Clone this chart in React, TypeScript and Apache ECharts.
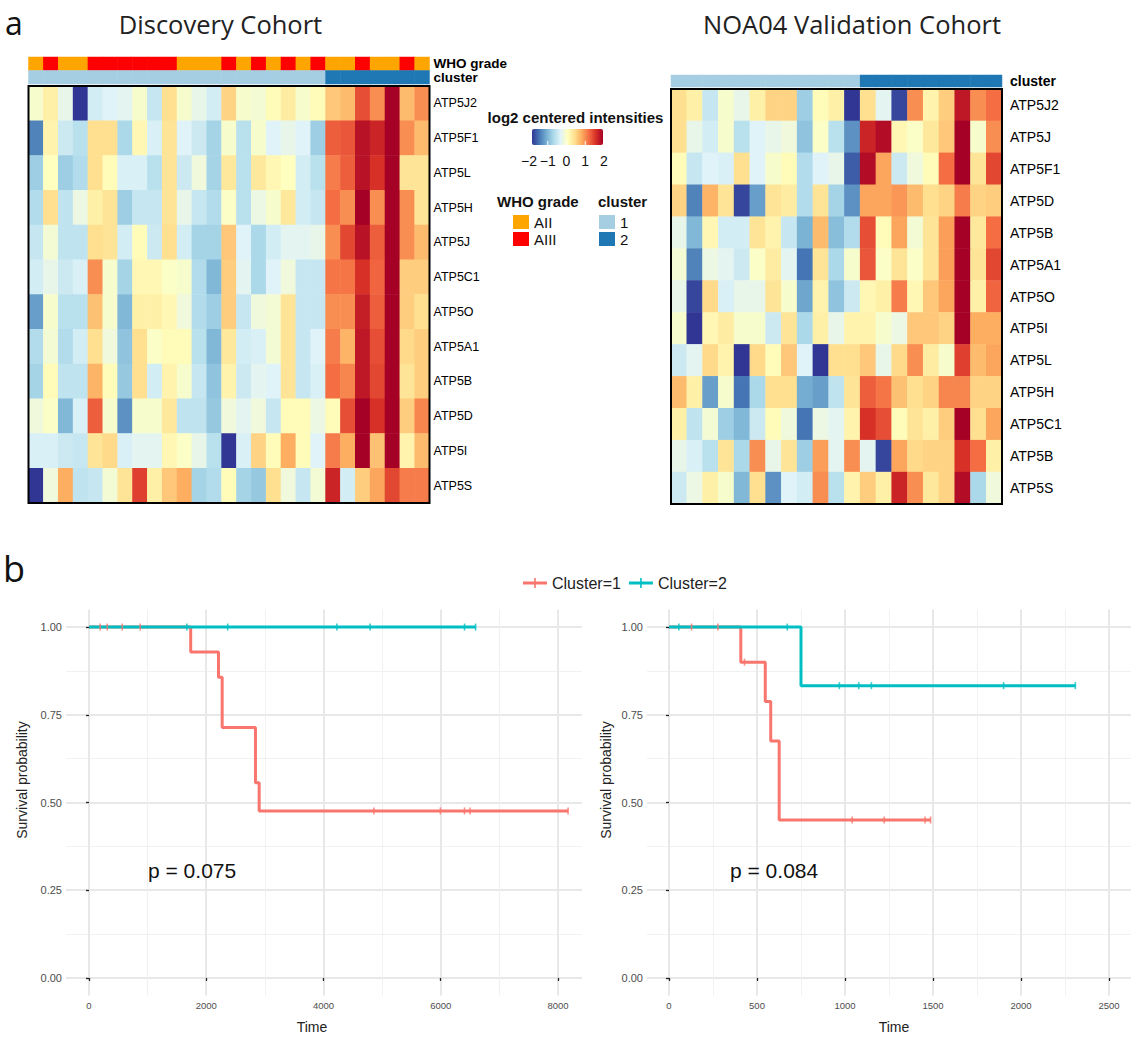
import React, { useEffect, useRef } from 'react';
import * as echarts from 'echarts';

// ---------------- Heatmap data ----------------
const discoveryGenes = ['ATP5J2', 'ATP5F1', 'ATP5L', 'ATP5H', 'ATP5J', 'ATP5C1', 'ATP5O', 'ATP5A1', 'ATP5B', 'ATP5D', 'ATP5I', 'ATP5S'];
const discoveryWho = ['AII', 'AIII', 'AII', 'AII', 'AIII', 'AIII', 'AIII', 'AIII', 'AIII', 'AIII', 'AII', 'AII', 'AII', 'AIII', 'AII', 'AIII', 'AII', 'AIII', 'AII', 'AIII', 'AII', 'AII', 'AIII', 'AII', 'AII', 'AIII', 'AII'];
const discoveryCluster = [1, 1, 1, 1, 1, 1, 1, 1, 1, 1, 1, 1, 1, 1, 1, 1, 1, 1, 1, 1, 2, 2, 2, 2, 2, 2, 2];
const discoveryValues: number[][] = [
  [-0.1, 0.2, -0.3, -2.0, -0.5, -0.4, -0.35, -0.1, -0.6, 0.4, -0.1, -0.3, -0.5, 0.5, -0.1, -0.15, 0.05, 0.25, -0.1, 0.05, 0.6, 0.7, 1.4, 1.0, 2.0, 0.7, 1.0],
  [-1.5, 0.15, -0.55, -0.7, 0.4, 0.4, -0.8, 0.1, -0.45, 0.35, -0.4, -0.55, -0.85, -0.1, -0.7, -0.1, -0.4, -0.3, -0.4, -0.9, 1.3, 1.35, 1.85, 1.7, 2.0, 1.0, 0.7],
  [-0.9, 0.0, -0.9, -0.75, 0.4, 0.05, -0.45, -0.45, -0.7, 0.35, -0.55, -0.2, -0.85, 0.3, -0.7, 0.3, 0.1, 0.0, -0.5, -0.7, 1.1, 1.3, 1.85, 1.6, 2.0, 0.35, 0.35],
  [-0.75, 0.4, -0.65, -0.25, 0.2, 0.35, -0.9, -0.6, -0.6, 0.35, -0.3, -0.6, -0.75, -0.05, -0.7, -0.25, -0.1, 0.3, -0.5, -0.6, 1.2, 1.0, 2.0, 1.0, 2.0, 1.0, 0.35],
  [-0.6, -0.15, -0.65, -0.65, 0.4, 0.35, -0.5, 0.05, -0.55, 0.4, -0.5, -0.85, -0.85, 0.6, -0.4, -0.8, -0.5, -0.35, -0.35, -0.3, 1.0, 1.45, 1.85, 1.3, 2.0, 1.0, 0.7],
  [-0.5, -0.3, -0.55, -0.45, 1.0, -0.1, -0.85, 0.1, 0.1, -0.05, -0.1, -0.75, -1.1, 0.55, -0.35, -0.8, -0.4, -0.2, -0.6, -0.6, 1.15, 1.15, 1.6, 1.25, 2.0, 0.55, 0.55],
  [-1.3, -0.1, -0.7, -0.7, 0.65, -0.1, -1.1, 0.2, 0.2, 0.1, -0.2, -0.75, -0.9, 0.55, -0.6, -0.2, -0.15, 0.35, -0.6, -0.6, 1.0, 1.0, 1.75, 1.3, 2.0, 0.55, 0.4],
  [-0.75, -0.15, -0.75, -0.5, 0.4, -0.2, -1.0, 0.4, -0.05, 0.05, 0.05, -0.7, -1.1, 0.3, -0.5, -0.45, -0.15, 0.35, -0.6, -0.4, 1.1, 0.75, 1.8, 1.4, 2.0, 0.45, 0.55],
  [-0.85, 0.05, -0.65, -0.65, 0.75, 0.05, -0.95, 0.4, -0.5, 0.15, -0.1, -0.6, -1.0, 0.15, -0.55, -0.35, -0.4, 0.35, -0.6, -0.45, 1.2, 1.05, 1.8, 1.45, 2.0, 0.35, 0.55],
  [-0.2, -0.05, -1.1, -0.45, 1.3, -0.1, -1.4, -0.1, -0.1, 0.3, -0.65, -0.65, -0.95, -0.2, -0.35, -0.2, -0.6, 0.05, 0.05, -0.25, 0.05, 1.4, 2.0, 1.6, 2.0, 0.55, 1.05],
  [-0.45, -0.45, -0.55, -0.6, 0.35, 0.45, -0.45, -0.35, -0.35, 0.1, -0.05, -0.3, -0.7, -2.0, -0.45, 0.5, 0.05, 0.8, 0.05, -0.4, 1.1, 0.8, 2.0, 0.65, 2.0, 0.15, 0.7],
  [-2.0, -0.2, 0.8, -0.65, -0.6, -0.15, 0.35, 1.5, 0.2, 0.6, 0.8, -0.85, -0.75, 0.05, -0.85, -0.95, 0.4, -0.2, -0.6, -0.15, 1.7, -0.5, 0.55, 0.85, 1.45, 1.1, 1.1],
];

const validationGenes = ['ATP5J2', 'ATP5J', 'ATP5F1', 'ATP5D', 'ATP5B', 'ATP5A1', 'ATP5O', 'ATP5I', 'ATP5L', 'ATP5H', 'ATP5C1', 'ATP5B', 'ATP5S'];
const validationCluster = [1, 1, 1, 1, 1, 1, 1, 1, 1, 1, 1, 1, 2, 2, 2, 2, 2, 2, 2, 2, 2];
const validationValues: number[][] = [
  [0.4, 0.2, -0.6, -0.1, -0.3, 0.2, 0.5, 0.5, -0.9, 0.05, 0.2, -2.0, 0.4, -0.35, -1.9, 1.0, 0.15, 0.55, 1.8, 1.0, 1.2],
  [0.4, -0.3, -0.5, -0.1, -0.7, -0.4, -0.3, -0.2, -1.0, -0.05, -0.7, -1.4, 1.7, 1.9, 0.1, -0.05, 0.3, 0.6, 2.0, -0.1, 1.0],
  [0.05, -0.6, -0.4, -0.45, 0.4, -0.4, -0.1, 0.05, -0.75, -0.4, -0.3, -1.75, 1.9, 0.85, -0.55, -0.2, 0.05, 1.2, 2.0, 0.35, 1.45],
  [0.5, -1.5, 0.75, 0.35, -1.9, -1.3, 0.35, 0.25, -0.75, 0.35, -0.85, -1.4, 0.85, 0.85, 0.95, 0.7, 0.4, 0.5, 1.1, 0.5, 0.55],
  [-0.3, -1.1, 0.1, -0.5, -0.5, 0.35, 0.15, -0.6, -1.15, 0.7, -1.05, -0.75, 1.4, 0.05, 0.85, -0.15, 0.35, 0.9, 2.0, 0.3, 1.2],
  [-0.15, -1.5, -0.25, -0.35, -0.55, -0.05, 0.25, -0.35, -1.6, 0.35, -0.8, -0.1, 1.35, -0.05, 0.35, -0.05, 0.35, 0.9, 2.0, 0.35, 1.45],
  [-0.3, -1.9, 0.45, -0.45, -0.3, -0.3, 0.35, -0.1, -1.25, 0.15, -1.0, -0.55, 0.1, 0.2, 1.1, 0.1, 0.6, 0.85, 2.0, 0.2, 1.25],
  [-0.1, -2.0, 0.1, 0.25, -0.1, -0.1, -0.55, 0.35, -0.8, 0.2, -0.3, 0.15, 0.15, -0.1, -0.25, 0.6, 0.6, 0.5, 2.0, 0.8, 0.8],
  [-0.55, -0.35, 0.45, 0.15, -2.0, 0.45, 0.05, 0.6, -0.4, -2.0, 0.4, 0.4, 0.6, -0.3, 0.45, 1.0, 0.25, -0.1, 1.5, 0.7, 0.85],
  [0.7, 0.2, -1.3, -0.1, -1.6, -0.8, 0.4, 0.4, -1.2, -1.3, -0.65, 0.35, 1.3, 1.15, 0.65, 0.4, 0.5, 1.05, 1.05, 0.5, 0.5],
  [0.2, -0.65, -0.15, -0.9, -1.1, -0.55, 0.05, -0.2, -1.6, -0.25, -0.35, 0.15, 1.6, 1.4, 0.05, 0.35, 0.2, 0.55, 2.0, 0.4, 0.85],
  [-0.3, -0.45, -0.7, 0.35, -0.8, 1.0, -0.3, 0.35, -0.9, 0.9, -0.35, 1.0, -0.35, -1.9, 0.85, 0.45, 0.5, 0.5, 1.6, 1.2, 0.2],
  [-0.55, -0.25, 0.2, -0.1, -1.1, 0.4, -1.4, -0.4, -0.5, 1.0, -0.7, 0.15, 0.55, 0.2, 1.7, 1.0, 0.3, 0.5, 1.9, -0.8, -0.2],
];

const colorbarTicks = [-2, -1, 0, 1, 2];

// ---------------- Kaplan-Meier data ----------------
const discC1Time = [0, 1735, 2209, 2272, 2840, 2903, 8173];
const discC1Surv = [1, 0.929, 0.857, 0.714, 0.556, 0.476, 0.476];
const discC1Censor = [191, 311, 567, 874, 4860, 5995, 6406, 6500, 8173];
const discC2Time = [0, 6595];
const discC2Surv = [1, 1];
const discC2Censor = [1670, 2366, 4229, 4796, 6406, 6595];

const valC1Time = [0, 408, 547, 578, 626, 1486];
const valC1Surv = [1, 0.9, 0.7875, 0.675, 0.45, 0.45];
const valC1Censor = [128, 278, 429, 1041, 1223, 1455, 1486];
const valC2Time = [0, 750, 2309];
const valC2Surv = [1, 0.833, 0.833];
const valC2Censor = [56, 672, 968, 1078, 1150, 1901, 2309];

const discXTicks = [0, 2000, 4000, 6000, 8000];
const discXMinor = [1000, 3000, 5000, 7000];
const valXTicks = [0, 500, 1000, 1500, 2000, 2500];
const valXMinor = [250, 750, 1250, 1750, 2250];
const yTicks = [0, 0.25, 0.5, 0.75, 1];
const yMinor = [0.125, 0.375, 0.625, 0.875];
const pDiscovery = 'p = 0.075';
const pValidation = 'p = 0.084';

// ---------------- styles ----------------
const RDYLBU = ['#313695', '#4575b4', '#74add1', '#abd9e9', '#e0f3f8', '#ffffbf', '#fee090', '#fdae61', '#f46d43', '#d73027', '#a50026'];
const ORANGE = '#FFA500';
const RED = '#FF0000';
const CL1 = '#A6CEE3';
const CL2 = '#1F78B4';
const KM1 = '#F8766D';
const KM2 = '#00BFC4';
const SANS = 'Liberation Sans, Arial, sans-serif';
const TITLE = 'Open Sans, sans-serif';

function survAt(times: number[], surv: number[], t: number) {
  let s = surv[0];
  for (let i = 0; i < times.length; i++) if (times[i] <= t) s = surv[i];
  return s;
}

function buildOption() {
  const discData: number[][] = [];
  discoveryValues.forEach((row, r) => row.forEach((v, c) => discData.push([c, r, v])));
  const valData: number[][] = [];
  validationValues.forEach((row, r) => row.forEach((v, c) => valData.push([c, r, v])));
  const discAnno: number[][] = [];
  discoveryWho.forEach((w, c) => discAnno.push([c, 0, w === 'AII' ? 0 : 1]));
  discoveryCluster.forEach((k, c) => discAnno.push([c, 1, k === 1 ? 2 : 3]));
  const valAnno: number[][] = validationCluster.map((k, c) => [c, 0, k === 1 ? 2 : 3]);

  const idx = (n: number) => Array.from({ length: n }, (_, i) => String(i));
  const hmGrid = (left: number, top: number, width: number, height: number, border: boolean) => ({
    left, top, width, height, containLabel: false, outerBoundsMode: 'none',
    show: border, borderColor: '#000', borderWidth: 2, backgroundColor: 'transparent', z: 10,
  });
  const catX = (gridIndex: number, n: number) => ({ type: 'category', gridIndex, data: idx(n), show: false });
  const catY = (gridIndex: number, labels: string[], fontSize: number, bold: boolean, margin: number) => ({
    type: 'category', gridIndex, data: idx(labels.length), inverse: true, position: 'right',
    axisLine: { show: false }, axisTick: { show: false }, splitLine: { show: false },
    axisLabel: {
      interval: 0, margin, fontSize, fontFamily: SANS, color: '#000', fontWeight: bold ? 'bold' : 'normal',
      formatter: (_v: string, i: number) => labels[i],
    },
  });

  const kmGrid = (left: number, width: number) => ({
    left, top: 609.5, width, height: 386, containLabel: false, outerBoundsMode: 'none', show: false,
  });
  const majorX = (gridIndex: number, min: number, max: number, ticks: number[]) => ({
    type: 'value', gridIndex, min, max, position: 'bottom',
    axisLine: { show: false },
    axisTick: { show: true, customValues: ticks, length: 3, lineStyle: { color: '#222', width: 1.3 } },
    axisLabel: { show: true, customValues: ticks, fontSize: 9.5, color: '#4d4d4d', fontFamily: SANS, margin: 5, formatter: (v: number) => String(v) },
    splitLine: { show: true, lineStyle: { color: '#e8e8e8', width: 2 } },
  });
  const minorX = (gridIndex: number, min: number, max: number, ticks: number[]) => ({
    type: 'value', gridIndex, min, max, position: 'top',
    axisLine: { show: false },
    axisTick: { show: false, customValues: ticks },
    axisLabel: { show: false, customValues: ticks },
    splitLine: { show: true, lineStyle: { color: '#f1f1f1', width: 1 } },
  });
  const majorY = (gridIndex: number) => ({
    type: 'value', gridIndex, min: -0.05, max: 1.05, position: 'left',
    axisLine: { show: false },
    axisTick: { show: true, customValues: yTicks, length: 3, lineStyle: { color: '#222', width: 1.3 } },
    axisLabel: { show: true, customValues: yTicks, fontSize: 11, color: '#4d4d4d', fontFamily: SANS, margin: 4, formatter: (v: number) => v.toFixed(2) },
    splitLine: { show: true, lineStyle: { color: '#e8e8e8', width: 2 } },
  });
  const minorY = (gridIndex: number) => ({
    type: 'value', gridIndex, min: -0.05, max: 1.05, position: 'right',
    axisLine: { show: false },
    axisTick: { show: false, customValues: yMinor },
    axisLabel: { show: false, customValues: yMinor },
    splitLine: { show: true, lineStyle: { color: '#f1f1f1', width: 1 } },
  });

  const kmLine = (name: string, times: number[], surv: number[], color: string, xi: number, yi: number) => ({
    type: 'line', name, xAxisIndex: xi, yAxisIndex: yi, step: 'end',
    data: times.map((t, i) => [t, surv[i]]),
    symbol: 'none', showSymbol: false, silent: true,
    lineStyle: { color, width: 3 }, itemStyle: { color }, z: 3,
  });
  const kmCensor = (times: number[], surv: number[], censor: number[], color: string, xi: number, yi: number) => ({
    type: 'scatter', name: 'censor', xAxisIndex: xi, yAxisIndex: yi,
    data: censor.map((t) => [t, survAt(times, surv, t)]),
    symbol: 'rect', symbolSize: [1.6, 7], silent: true, itemStyle: { color }, z: 4,
  });

  const KEY = 'path://M0,4.5 L24,4.5 L24,7.5 L0,7.5 Z M11.2,1 L12.8,1 L12.8,11 L11.2,11 Z';

  const txt = (text: string, x: number, y: number, size: number, opts: any = {}) => ({
    type: 'text', x, y, silent: true, z: 100, rotation: opts.rotation || 0,
    style: {
      text, fill: opts.fill || '#222', fontSize: size, fontFamily: opts.family || SANS,
      fontWeight: opts.weight || 'normal', align: opts.align || 'left', verticalAlign: 'middle',
    },
  });

  const cbLeft = 529, cbWidth = 75;
  const graphics: any[] = [
    txt('a', 5, 22, 32, { family: TITLE, fill: '#111' }),
    txt('Discovery Cohort', 220.5, 24, 25.5, { family: TITLE, align: 'center', fill: '#222' }),
    txt('NOA04 Validation Cohort', 852, 24, 25.5, { family: TITLE, align: 'center', fill: '#222' }),
    txt('b', 3, 568, 36, { family: TITLE, fill: '#111' }),
    txt('log2 centered intensities', 575.5, 117, 15, { weight: 'bold', align: 'center', fill: '#111' }),
    {
      type: 'rect', shape: { x: cbLeft + 3, y: 129, width: cbWidth - 4, height: 16, r: 2 }, silent: true, z: 100,
      style: {
        fill: new echarts.graphic.LinearGradient(0, 0, 1, 0, RDYLBU.map((c, i) => ({ offset: i / (RDYLBU.length - 1), color: c }))),
      },
    },
    ...colorbarTicks.slice(1, -1).map((v) => ({
      type: 'line', silent: true, z: 101,
      shape: { x1: cbLeft + ((v + 2) / 4) * cbWidth, y1: 141, x2: cbLeft + ((v + 2) / 4) * cbWidth, y2: 145 },
      style: { stroke: '#fff', lineWidth: 1 },
    })),
    ...colorbarTicks.map((v) =>
      txt(v < 0 ? '\u2212' + Math.abs(v) : String(v), cbLeft + ((v + 2) / 4) * cbWidth, 161, 14, { align: 'center', fill: '#111' })
    ),
    txt('WHO grade', 497, 201, 15, { weight: 'bold', fill: '#111' }),
    txt('cluster', 598, 201, 15, { weight: 'bold', fill: '#111' }),
    { type: 'rect', silent: true, z: 100, shape: { x: 513, y: 215, width: 16, height: 14 }, style: { fill: ORANGE } },
    { type: 'rect', silent: true, z: 100, shape: { x: 513, y: 232, width: 16, height: 14 }, style: { fill: RED } },
    txt('AII', 534, 222, 15, { fill: '#111' }),
    txt('AIII', 534, 239, 15, { fill: '#111' }),
    { type: 'rect', silent: true, z: 100, shape: { x: 599, y: 215, width: 16, height: 14 }, style: { fill: CL1 } },
    { type: 'rect', silent: true, z: 100, shape: { x: 599, y: 232, width: 16, height: 14 }, style: { fill: CL2 } },
    txt('1', 620, 222, 15, { fill: '#111' }),
    txt('2', 620, 239, 15, { fill: '#111' }),
    txt('Survival probability', 22, 780, 14, { align: 'center', rotation: Math.PI / 2 }),
    txt('Survival probability', 606, 780, 14, { align: 'center', rotation: Math.PI / 2 }),
    txt('Time', 312, 1027, 14, { align: 'center' }),
    txt('Time', 894, 1027, 14, { align: 'center' }),
    txt(pDiscovery, 148, 870, 21, { fill: '#111' }),
    txt(pValidation, 730, 870, 21, { fill: '#111' }),
  ];

  return {
    animation: false,
    backgroundColor: '#fff',
    textStyle: { fontFamily: SANS },
    legend: {
      data: [{ name: 'Cluster=1', icon: KEY }, { name: 'Cluster=2', icon: KEY }],
      left: 518, top: 570, itemWidth: 24, itemHeight: 12, itemGap: 8, selectedMode: false,
      textStyle: { fontSize: 16, color: '#222', fontFamily: SANS },
    },
    grid: [
      hmGrid(28.5, 86, 401, 417, true),
      hmGrid(28.5, 57, 401, 27, false),
      hmGrid(671, 89, 331, 415, true),
      hmGrid(671, 75, 331, 12, false),
      kmGrid(66, 516),
      kmGrid(647, 484),
    ],
    xAxis: [
      catX(0, discoveryWho.length),
      catX(1, discoveryWho.length),
      catX(2, validationCluster.length),
      catX(3, validationCluster.length),
      majorX(4, -392, 8410, discXTicks),
      minorX(4, -392, 8410, discXMinor),
      majorX(5, -125, 2625, valXTicks),
      minorX(5, -125, 2625, valXMinor),
    ],
    yAxis: [
      catY(0, discoveryGenes, 12.5, false, 4),
      catY(1, ['WHO grade', 'cluster'], 13.5, true, 4),
      catY(2, validationGenes, 14, false, 8),
      catY(3, ['cluster'], 14, true, 8),
      majorY(4),
      minorY(4),
      majorY(5),
      minorY(5),
    ],
    visualMap: [
      { type: 'continuous', show: false, seriesIndex: [0, 2], dimension: 2, min: -2, max: 2, inRange: { color: RDYLBU } },
      {
        type: 'piecewise', show: false, seriesIndex: [1, 3], dimension: 2,
        pieces: [
          { value: 0, color: ORANGE },
          { value: 1, color: RED },
          { value: 2, color: CL1 },
          { value: 3, color: CL2 },
        ],
      },
    ],
    series: [
      { type: 'heatmap', xAxisIndex: 0, yAxisIndex: 0, data: discData, silent: true, itemStyle: { borderWidth: 0 } },
      { type: 'heatmap', xAxisIndex: 1, yAxisIndex: 1, data: discAnno, silent: true, itemStyle: { borderWidth: 0 } },
      { type: 'heatmap', xAxisIndex: 2, yAxisIndex: 2, data: valData, silent: true, itemStyle: { borderWidth: 0 } },
      { type: 'heatmap', xAxisIndex: 3, yAxisIndex: 3, data: valAnno, silent: true, itemStyle: { borderWidth: 0 } },
      kmLine('Cluster=1', discC1Time, discC1Surv, KM1, 4, 4),
      kmLine('Cluster=2', discC2Time, discC2Surv, KM2, 4, 4),
      kmCensor(discC1Time, discC1Surv, discC1Censor, KM1, 4, 4),
      kmCensor(discC2Time, discC2Surv, discC2Censor, KM2, 4, 4),
      kmLine('Cluster=1', valC1Time, valC1Surv, KM1, 6, 6),
      kmLine('Cluster=2', valC2Time, valC2Surv, KM2, 6, 6),
      kmCensor(valC1Time, valC1Surv, valC1Censor, KM1, 6, 6),
      kmCensor(valC2Time, valC2Surv, valC2Censor, KM2, 6, 6),
    ],
    graphic: graphics,
  };
}

export default function App() {
  const ref = useRef<HTMLDivElement>(null);
  useEffect(() => {
    document.body.style.margin = '0';
    const chart = echarts.init(ref.current as HTMLDivElement, null, { renderer: 'svg' });
    chart.setOption(buildOption() as any);
    return () => chart.dispose();
  }, []);
  return (
    <div
      ref={ref}
      style={{ position: 'absolute', left: 0, top: 0, width: 1132, height: 1039, background: '#fff' }}
    />
  );
}
